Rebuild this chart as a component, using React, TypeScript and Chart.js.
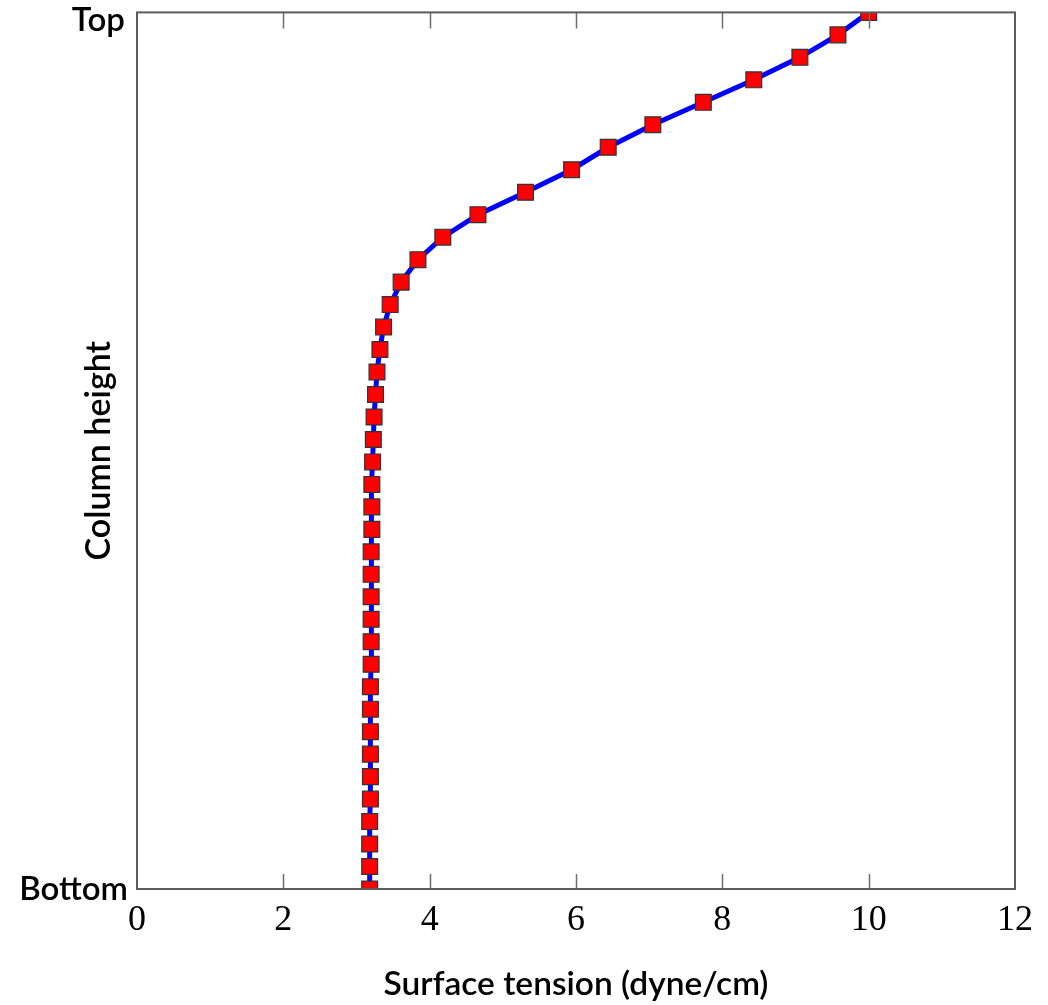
import React, { useEffect, useRef } from "react";
import { Chart, registerables } from "chart.js";

Chart.register(...registerables);

// Column height positions (0 = bottom, 39 = top)
const columnHeight = [
  0, 1, 2, 3, 4, 5, 6, 7, 8, 9,
  10, 11, 12, 13, 14, 15, 16, 17, 18, 19,
  20, 21, 22, 23, 24, 25, 26, 27, 28, 29,
  30, 31, 32, 33, 34, 35, 36, 37, 38, 39,
];

// Surface tension (dyne/cm), from bottom to top
const surfaceTension = [
  3.18, 3.18, 3.18, 3.18, 3.19, 3.19, 3.19, 3.19, 3.19, 3.19,
  3.2, 3.2, 3.2, 3.2, 3.2, 3.2, 3.21, 3.21, 3.21, 3.22,
  3.23, 3.24, 3.26, 3.28, 3.32, 3.37, 3.46, 3.61, 3.84, 4.18,
  4.66, 5.31, 5.94, 6.44, 7.05, 7.74, 8.43, 9.06, 9.58, 10.0,
];

const xTicks = [0, 2, 4, 6, 8, 10, 12];
const innerTicks = [2, 4, 6, 8, 10];
const yTickLabels = ["Bottom", "Top"];
const xTitle = "Surface tension (dyne/cm)";
const yTitle = "Column height";

const SANS = "Lato, 'Open Sans', sans-serif";

const framePlugin = {
  id: "framePlugin",
  afterDatasetsDraw(chart: any) {
    const { ctx, chartArea } = chart;
    const xs = chart.scales.x;
    const ys = chart.scales.y;
    const { left, right, top, bottom } = chartArea;
    ctx.save();
    // inner ticks
    ctx.strokeStyle = "#6e6e6e";
    ctx.lineWidth = 1.5;
    innerTicks.forEach((v) => {
      const px = Math.round(xs.getPixelForValue(v)) + 0.5;
      ctx.beginPath();
      ctx.moveTo(px, bottom);
      ctx.lineTo(px, bottom - 15);
      ctx.moveTo(px, top);
      ctx.lineTo(px, top + 16);
      ctx.stroke();
    });
    // frame
    ctx.strokeStyle = "#5c5c5c";
    ctx.lineWidth = 2;
    ctx.strokeRect(left, top, right - left, bottom - top);
    // y tick labels
    ctx.fillStyle = "#000";
    ctx.font = `600 33px ${SANS}`;
    ctx.textAlign = "right";
    ctx.textBaseline = "middle";
    const yb = ys.getPixelForValue(ys.min);
    const yt = Math.max(ys.getPixelForValue(ys.max), 20);
    ctx.fillText(yTickLabels[0], left - 9, yb);
    ctx.fillText(yTickLabels[1], left - 12, yt);
    // y title
    ctx.translate(99, (top + bottom) / 2);
    ctx.rotate(-Math.PI / 2);
    ctx.textAlign = "center";
    ctx.textBaseline = "middle";
    ctx.font = `600 34px ${SANS}`;
    ctx.fillText(yTitle, 0, 0);
    ctx.restore();
  },
};

export default function App() {
  const ref = useRef<HTMLCanvasElement | null>(null);

  useEffect(() => {
    if (!ref.current) return;
    const points = surfaceTension.map((t, i) => ({ x: t, y: columnHeight[i] }));
    const chart = new Chart(ref.current, {
      type: "line",
      data: {
        datasets: [
          {
            data: points,
            borderColor: "#0000ff",
            borderWidth: 5,
            pointStyle: "rect",
            pointRadius: 11.2,
            pointBackgroundColor: "#ff0000",
            pointBorderColor: "#333333",
            pointBorderWidth: 1.2,
            tension: 0,
            clip: 0,
          } as any,
        ],
      },
      options: {
        responsive: false,
        animation: false,
        devicePixelRatio: 1,
        layout: { padding: { top: 12, right: 33, bottom: 0, left: 0 } },
        plugins: {
          legend: { display: false },
          tooltip: { enabled: false },
        },
        scales: {
          x: {
            type: "linear",
            min: 0,
            max: 12,
            afterBuildTicks: (s: any) => {
              s.ticks = xTicks.map((v) => ({ value: v }));
            },
            ticks: {
              color: "#000",
              font: { family: "'Liberation Serif', serif", size: 36 },
              padding: 10,
            },
            grid: { display: false, drawTicks: false },
            border: { display: false },
            title: {
              display: true,
              text: xTitle,
              color: "#000",
              font: { family: SANS, size: 33.5, weight: "600" },
              padding: { top: 0, bottom: 1 },
            },
            afterFit: (s: any) => {
              s.height = 116;
              s.paddingLeft = 0;
              s.paddingRight = 0;
            },
          } as any,
          y: {
            type: "linear",
            min: 0,
            max: 39,
            ticks: { display: false },
            grid: { display: false, drawTicks: false },
            border: { display: false },
            afterFit: (s: any) => {
              s.width = 137;
              s.paddingTop = 0;
              s.paddingBottom = 0;
            },
          } as any,
        },
      },
      plugins: [framePlugin],
    });
    return () => chart.destroy();
  }, []);

  return (
    <div style={{ position: "absolute", left: 0, top: 0, width: 1048, height: 1005, background: "#fff" }}>
      <canvas ref={ref} width={1048} height={1005} style={{ width: 1048, height: 1005 }} />
    </div>
  );
}
